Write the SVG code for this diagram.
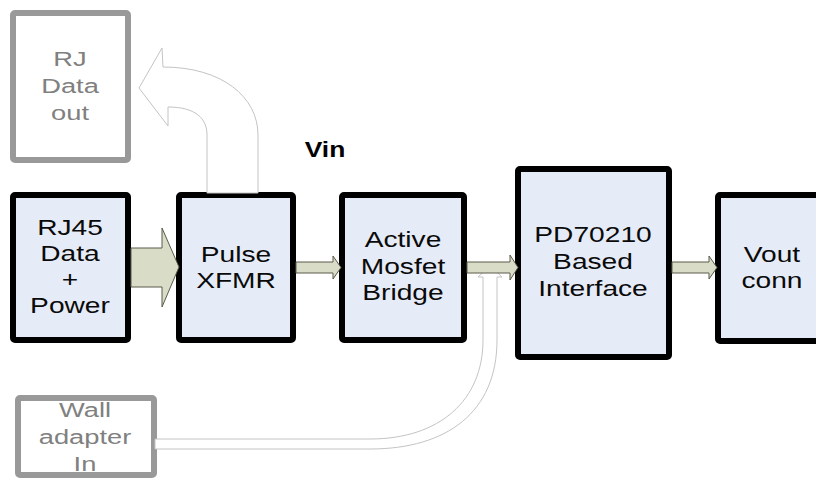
<svg xmlns="http://www.w3.org/2000/svg" width="816" height="478" viewBox="0 0 816 478">
<style>
.blk{fill:#e6ecf7;stroke:#000;stroke-width:6}
.gry{fill:#fff;stroke:#999;stroke-width:6}
.t{font-family:"Liberation Sans",Arial,sans-serif;font-size:22px;fill:#0a0a0a;text-anchor:middle}
.tg{font-family:"Liberation Sans",Arial,sans-serif;font-size:21px;fill:#808080;text-anchor:middle}
.arr{fill:#d9dcc6;stroke:#5a5a4a;stroke-width:1}
.outl{fill:#fff;stroke:#c4c4c4;stroke-width:1}
</style>
<rect width="816" height="478" fill="#fff"/>
<g id="rj-data-out">
<rect class="gry" x="13" y="13" width="115" height="147" rx="2"/>
<g transform="translate(70 0) scale(1.3 1)"><text class="tg" x="0" y="66">RJ</text><text class="tg" x="0" y="93">Data</text><text class="tg" x="0" y="120">out</text></g>
</g>
<g id="rj45">
<rect class="blk" x="13" y="195" width="115" height="145" rx="2"/>
<g transform="translate(70 0) scale(1.28 1)"><text class="t" x="0" y="235">RJ45</text><text class="t" x="0" y="261">Data</text><text class="t" x="0" y="287">+</text><text class="t" x="0" y="313">Power</text></g>
</g>
<g id="pulse">
<rect class="blk" x="179" y="195" width="114" height="145" rx="2"/>
<g transform="translate(236 0) scale(1.28 1)"><text class="t" x="0" y="262">Pulse</text><text class="t" x="0" y="288">XFMR</text></g>
</g>
<g id="bridge">
<rect class="blk" x="342" y="195" width="122" height="145" rx="2"/>
<g transform="translate(403 0) scale(1.28 1)"><text class="t" x="0" y="247">Active</text><text class="t" x="0" y="274">Mosfet</text><text class="t" x="0" y="300">Bridge</text></g>
</g>
<g id="pd70210">
<rect class="blk" x="518" y="169" width="151" height="188" rx="2"/>
<g transform="translate(593 0) scale(1.28 1)"><text class="t" x="0" y="242">PD70210</text><text class="t" x="0" y="269">Based</text><text class="t" x="0" y="296">Interface</text></g>
</g>
<g id="vout">
<rect class="blk" x="718" y="195" width="120" height="146" rx="2"/>
<g transform="translate(772 0) scale(1.28 1)"><text class="t" x="0" y="262">Vout</text><text class="t" x="0" y="288">conn</text></g>
</g>
<g id="wall">
<rect class="gry" x="18" y="398" width="136" height="77" rx="2"/>
<g transform="translate(85 0) scale(1.3 1)"><text class="tg" x="0" y="417">Wall</text><text class="tg" x="0" y="444">adapter</text><text class="tg" x="0" y="471">In</text></g>
</g>
<g id="vin">
<g transform="translate(325 0) scale(1.2 1)"><text x="0" y="157" font-family="'Liberation Sans',Arial,sans-serif" font-size="22" font-weight="bold" text-anchor="middle" fill="#000">Vin</text></g>
</g>
<g id="connectors">
<path class="outl" d="M207,193 V135 C207,118 195,107 168,107 L168,126 L139,88 L162,48 L163,67 C222,67 258,97 258,135 V193 Z"/>
<path class="outl" d="M155,439 H370 C440,439 483,400 483,340 V277 H478 L490,266 L502,277 H497 V340 C497,412 447,449 370,449 H155 Z"/>
<polygon class="arr" points="131,248 162,248 162,228 179,267 162,307 162,287 131,287"/>
<polygon class="arr" points="296,262 333,262 333,256 341,267.5 333,279 333,273 296,273"/>
<polygon class="arr" points="467,262 510,262 510,255 518,267.5 510,280 510,273 467,273"/>
<polygon class="arr" points="672,262 709,262 709,256 717,267.5 709,279 709,273 672,273"/>
</g>
</svg>
